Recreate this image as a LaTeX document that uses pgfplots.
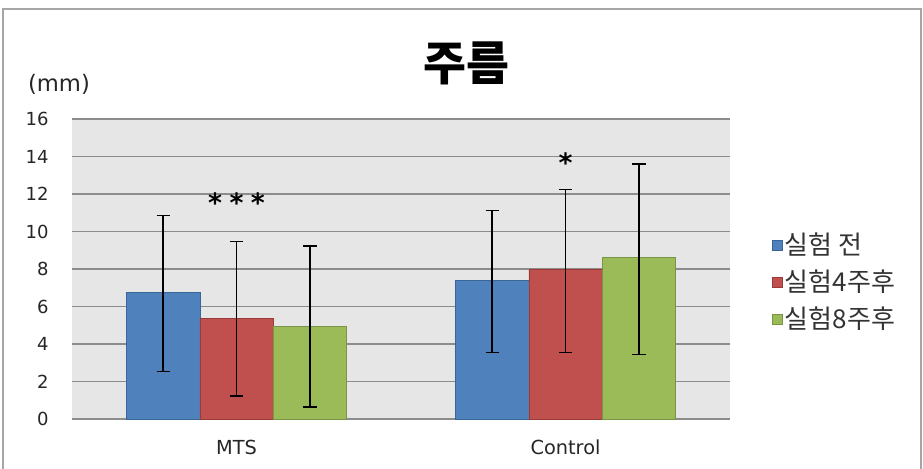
\documentclass[border=0pt]{standalone}
\usepackage{pgfplots}
\pgfplotsset{compat=1.18}
\usepackage{fontspec}
\setmainfont{DejaVu Sans}
\newfontfamily\cjk{Noto Sans CJK KR}
\definecolor{barblue}{HTML}{4F81BD}
\definecolor{barblueedge}{HTML}{3A6599}
\definecolor{barred}{HTML}{C0504D}
\definecolor{barrededge}{HTML}{9A3B38}
\definecolor{bargreen}{HTML}{9BBB59}
\definecolor{bargreenedge}{HTML}{7A9445}
\definecolor{gridgray}{HTML}{8C8C8C}
\definecolor{bggray}{HTML}{E6E6E6}
\begin{document}
\begin{tikzpicture}[x=0.75pt,y=0.75pt]
\useasboundingbox (0,0) rectangle (923,468);
\draw[color=gray!70, line width=1pt] (3,-5) rectangle (921,459);
\node[font=\cjk\bfseries\fontsize{35}{40}\selectfont] at (466,405) {주름};
\node[font=\fontsize{17}{20}\selectfont, text=black!85] at (59,384) {(mm)};
\begin{axis}[
  at={(54pt,36.75pt)}, anchor=south west,
  scale only axis, width=493.5pt, height=225pt,
  ybar=0pt, bar width=55pt,
  xmin=-0.5, xmax=1.5, ymin=0, ymax=16,
  xtick={0,1}, xticklabels={MTS, Control},
  ytick={0,2,...,16},
  ymajorgrids, grid style={draw=gridgray, line width=1pt},
  major tick length=0pt,
  axis line style={draw=none},
  axis background/.style={fill=bggray},
  /pgf/number format/assume math mode=true,
  yticklabel style={font=\fontsize{13.5}{16}\selectfont, text=black!85, xshift=-14pt},
  xticklabel style={font=\fontsize{14.5}{17}\selectfont, text=black!85, yshift=-12pt},
  legend style={at={(1.057,0.457)}, anchor=west, draw=none, fill=none,
    font=\cjk\fontsize{19.5}{22}\selectfont, text=black!80, row sep=6pt},
  legend cell align=left,
  legend image code/.code={\draw[#1] (0pt,-3.75pt) rectangle (7.5pt,3.75pt);},
  error bars/y dir=both, error bars/y explicit,
  error bars/error mark options={black, mark size=5pt, line width=1.1pt, rotate=90},
  error bars/error bar style={black, line width=1.1pt},
]
\addplot[fill=barblue, draw=barblueedge] coordinates {
  (0,6.74) += (0,4.10) -= (0,4.22)
  (1,7.41) += (0,3.70) -= (0,3.85)
};
\addplot[fill=barred, draw=barrededge] coordinates {
  (0,5.37) += (0,4.10) -= (0,4.14)
  (1,7.98) += (0,4.25) -= (0,4.42)
};
\addplot[fill=bargreen, draw=bargreenedge] coordinates {
  (0,4.92) += (0,4.31) -= (0,4.28)
  (1,8.64) += (0,4.96) -= (0,5.19)
};
\legend{실험 전, 실험4주후, 실험8주후}
\node[font=\bfseries\fontsize{20}{24}\selectfont, yshift=-2pt] at (axis cs:0,11.68) {*\;*\;*};
\node[font=\bfseries\fontsize{20}{24}\selectfont, yshift=-2pt] at (axis cs:1,13.81) {*};
\end{axis}
\end{tikzpicture}
\end{document}
